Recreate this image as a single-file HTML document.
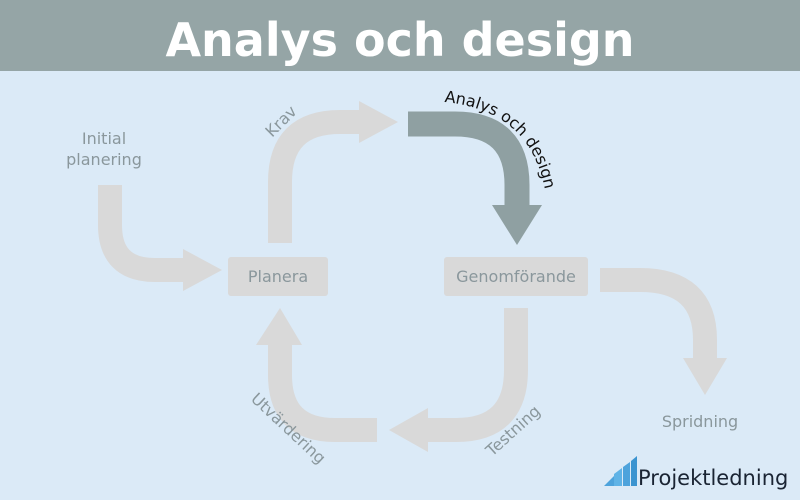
<!DOCTYPE html>
<html><head><meta charset="utf-8"><style>
html,body{margin:0;padding:0}
body{width:800px;height:500px;overflow:hidden;background:#dbeaf7;font-family:"Liberation Sans","DejaVu Sans",sans-serif}
</style></head><body>
<svg width="800" height="500" viewBox="0 0 800 500" xmlns="http://www.w3.org/2000/svg" style="position:absolute;left:0;top:0">
<rect x="0" y="0" width="800" height="500" fill="#dbeaf7"/>
<rect x="0" y="0" width="800" height="71" fill="#95a5a6"/>
<text x="400" y="56" text-anchor="middle" font-family="DejaVu Sans, Liberation Sans, sans-serif" font-weight="bold" font-size="46" fill="#ffffff">Analys och design</text>

<g fill="none" stroke="#d9d9d9" stroke-width="24">
<path d="M110,185 V225 Q110,270 155,270 H186"/>
<path d="M280,243 V182 Q280,122 340,122 H362"/>
<path d="M600,280 H640 Q705,280 705,340 V360"/>
<path d="M516,308 V370 Q516,430 456,430 H426"/>
<path d="M377,430 H335 Q280,430 280,375 V343"/>
</g>
<g fill="#d9d9d9">
<polygon points="183,249 222,270 183,291"/>
<polygon points="359,101 398,122 359,143"/>
<polygon points="683,358 705,395 727,358"/>
<polygon points="428,408 389,430 428,452"/>
<polygon points="256,345 280,308 302,345"/>
</g>
<path d="M408,124 H455 Q517,124 517,185 V208" fill="none" stroke="#8fa0a2" stroke-width="25"/>
<polygon points="492,205 517,245 542,205" fill="#8fa0a2"/>

<rect x="228" y="257" width="100" height="39" rx="3" fill="#d9d9d9"/>
<rect x="444" y="257" width="144" height="39" rx="3" fill="#d9d9d9"/>
<g font-family="DejaVu Sans, Liberation Sans, sans-serif" font-size="16" fill="#8a979c">
<text x="278" y="282" text-anchor="middle">Planera</text>
<text x="516" y="282" text-anchor="middle">Genomförande</text>
<text x="104" y="144" text-anchor="middle">Initial</text>
<text x="104" y="165" text-anchor="middle">planering</text>
<text x="700" y="427" text-anchor="middle">Spridning</text>
<text transform="translate(272,138) rotate(-45)">Krav</text>
<text transform="translate(492,457) rotate(-42)">Testning</text>
<text transform="translate(250,400) rotate(43)">Utvärdering</text>
</g>
<defs><path id="arc" d="M444,102 Q530,110 545,190"/></defs>
<text font-family="DejaVu Sans, Liberation Sans, sans-serif" font-size="16" fill="#111"><textPath href="#arc">Analys och design</textPath></text>

<g fill="#4da3dc">
<polygon points="604,486 614,476 614,486"/>
<polygon points="614,486 614,474 622,468 622,486" fill="#5fb3e6"/>
<polygon points="623,486 623,467 630,462 630,486"/>
<polygon points="631,486 631,461 637,456 637,486" fill="#3b94d0"/>
</g>
<text x="638" y="485" font-family="DejaVu Sans, Liberation Sans, sans-serif" font-size="21" fill="#1a2433">Projektledning</text>
</svg>
</body></html>
